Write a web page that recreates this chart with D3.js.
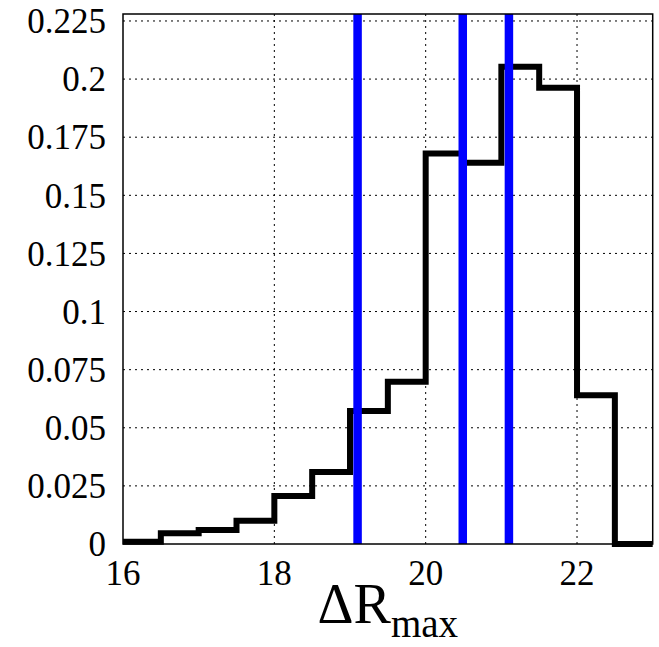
<!DOCTYPE html>
<html><head><meta charset="utf-8">
<script src="https://cdn.jsdelivr.net/npm/d3@7"></script>
<style>body{margin:0;background:#fff}</style>
</head><body>
<svg id="c" width="659" height="647"></svg>
<script>
const binEdges = [16,16.5,17,17.5,18,18.5,19,19.5,20,20.5,21,21.5,22,22.5,23];
const binValues = [0.001,0.0046,0.006,0.010,0.0206,0.031,0.0572,0.0698,0.168,0.164,0.2053,0.1963,0.064,0.0];
const markers = [19.1,20.49,21.1];
const xTicks = [16,18,20,22];
const yTicks = [0,0.025,0.05,0.075,0.1,0.125,0.15,0.175,0.2,0.225];
const yTickLabels = ["0","0.025","0.05","0.075","0.1","0.125","0.15","0.175","0.2","0.225"];

const L=123,R=652.7,T=14,B=544;
const svg=d3.select("#c");
const x=d3.scaleLinear().domain([16,23]).range([L,R]);
const y=d3.scaleLinear().domain([0,0.228]).range([B,T]);
const font="Liberation Serif, Tinos, Times New Roman, serif";

// grid
const g=svg.append("g");
g.selectAll("line.h").data(yTicks.filter(v=>v>0)).join("line")
 .attr("x1",L).attr("x2",R).attr("y1",d=>y(d)).attr("y2",d=>y(d))
 .attr("stroke","#000").attr("stroke-width",1).attr("stroke-dasharray","2,4");
g.selectAll("line.v").data(xTicks.filter(v=>v>16)).join("line")
 .attr("y1",T).attr("y2",B).attr("x1",d=>x(d)).attr("x2",d=>x(d))
 .attr("stroke","#000").attr("stroke-width",1).attr("stroke-dasharray","2,4");

// histogram step
const pts=binValues.map((v,i)=>[binEdges[i],v]);
pts.push([binEdges[binEdges.length-1],binValues[binValues.length-1]]);
const line=d3.line().x(d=>x(d[0])).y(d=>y(d[1])).curve(d3.curveStepAfter);
svg.append("path").attr("d",line(pts)).attr("fill","none").attr("stroke","#000")
 .attr("stroke-width",6).attr("stroke-linejoin","miter");

// markers
svg.selectAll("line.m").data(markers).join("line")
 .attr("x1",d=>x(d)).attr("x2",d=>x(d)).attr("y1",T).attr("y2",B)
 .attr("stroke","#0000ff").attr("stroke-width",8.5);

// frame
svg.append("rect").attr("x",L).attr("y",T).attr("width",R-L).attr("height",B-T)
 .attr("fill","none").attr("stroke","#000").attr("stroke-width",1.5);

// y tick labels
svg.selectAll("text.y").data(yTicks).join("text")
 .attr("x",106).attr("y",d=>y(d)).attr("dy","0.35em").attr("text-anchor","end")
 .style("font-family",font).style("font-size","35px").text((d,i)=>yTickLabels[i]);
// x tick labels
svg.selectAll("text.x").data(xTicks).join("text")
 .attr("x",d=>x(d)).attr("y",585).attr("text-anchor","middle")
 .style("font-family",font).style("font-size","35px").text(d=>d);

// x title
const t=svg.append("text").attr("x",(L+R)/2).attr("y",623).attr("text-anchor","middle")
 .style("font-family",font).style("font-size","56px");
t.append("tspan").text("ΔR");
t.append("tspan").style("font-size","39px").attr("dy",14).text("max");
</script>
</body></html>
